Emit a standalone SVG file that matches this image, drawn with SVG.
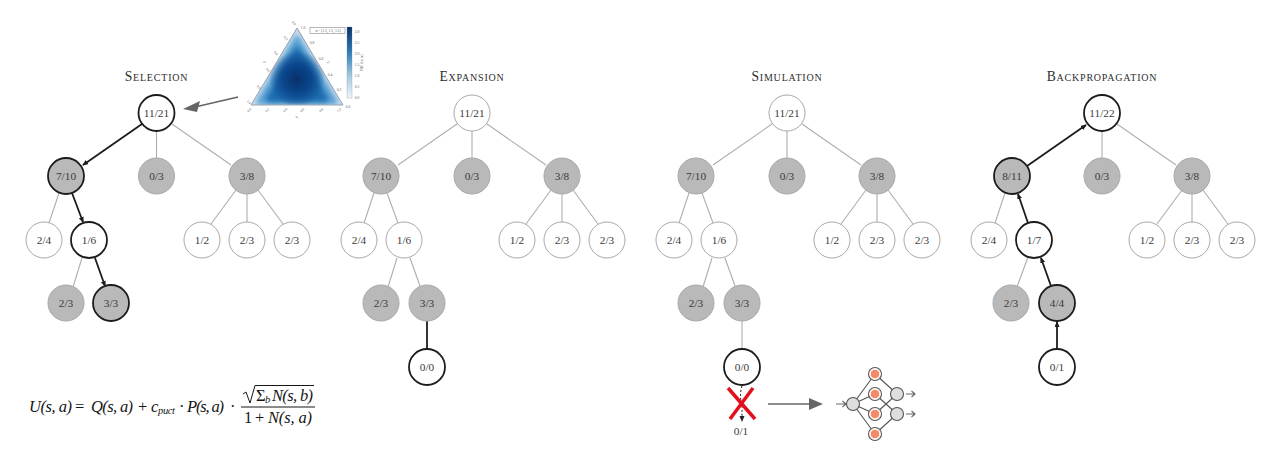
<svg xmlns="http://www.w3.org/2000/svg" width="1280" height="472" viewBox="0 0 1280 472">
<defs>
<style>
text{font-family:"Liberation Serif","DejaVu Serif",serif;fill:#3a3a3a;text-anchor:middle}
.n{font-size:11.300px}
.t{font-size:13.600px;fill:#2e2e2e;font-variant:small-caps;letter-spacing:.8px}
.w{fill:#fff;stroke:#a8a8a8;stroke-width:1}
.g{fill:#b9b9b9;stroke:#a8a8a8;stroke-width:1}
.W{fill:#fff;stroke:#1c1c1c;stroke-width:1.800}
.G{fill:#b9b9b9;stroke:#1c1c1c;stroke-width:1.800}
.e{stroke:#aeaeae;stroke-width:1.100;fill:none}
.h{stroke:#1c1c1c;stroke-width:1.800;fill:none;marker-end:url(#ah)}
.m{font-style:italic;fill:#161616;text-anchor:start;font-size:16.500px}
.u{font-style:normal;fill:#161616;text-anchor:start;font-size:16.500px}
.s{font-style:italic;fill:#161616;text-anchor:start;font-size:10.500px}
.nn{stroke:#555;stroke-width:1.100;fill:none}
.o{fill:#f58a66;stroke:#fff;stroke-width:1}
.r{fill:#fff;stroke:#555;stroke-width:1.100}
.c{fill:#dedede;stroke:#555;stroke-width:1.100}
.b{fill:none;stroke:#666;stroke-width:1.100}
.x{font-size:3.600px;fill:#555}
</style>
<marker id="ah" markerWidth="6" markerHeight="6" refX="5" refY="2.500" orient="auto" markerUnits="userSpaceOnUse"><path d="M0,0L6,2.500L0,5z" fill="#1c1c1c"/></marker>
<linearGradient id="cb" x1="0" y1="0" x2="0" y2="1"><stop offset="0" stop-color="#08306b"/><stop offset=".35" stop-color="#2b7bba"/><stop offset=".7" stop-color="#a6cde3"/><stop offset="1" stop-color="#f0f5fb"/></linearGradient>
<radialGradient id="dark" gradientUnits="userSpaceOnUse" cx="297" cy="79" r="28"><stop offset="0" stop-color="#08306b"/><stop offset=".5" stop-color="#0a468c"/><stop offset="1" stop-color="#0a468c" stop-opacity="0"/></radialGradient>
<filter id="bl" x="-20%" y="-20%" width="140%" height="140%"><feGaussianBlur stdDeviation="2.500"/></filter>
<clipPath id="tri"><path d="M297,28L343,105H251z"/></clipPath>
</defs>
<g id="connectors">
<path class="h" d="M142,124L83,165"/><path class="e" d="M156.500,131V158M172,124L231,165M59,193L49,223"/><path class="h" d="M72,193L83,222"/>
<path class="e" d="M236,190L211,224M247,194V222M258,190L283,224M82,258L73,287"/><path class="h" d="M95,258L105,286"/>
<path class="e" d="M457,124L398,165M472,131V158M487,124L546,165M374,193L364,223M387,193L398,223M551,190L526,224M562,194V222M573,190L598,224M397,258L388,287M410,258L420,286"/>
<path d="M427,321V349" stroke="#1c1c1c" stroke-width="1.800"/>
<path class="e" d="M772,124L713,165M787,131V158M802,124L861,165M689,193L679,223M702,193L713,223M866,190L841,224M877,194V222M888,190L913,224M712,258L703,287M725,258L735,286M742,321V349"/>
<path class="h" d="M1027,166L1086,125"/><path class="e" d="M1102,131V158M1117,124L1176,165M995,223L1005,193"/><path class="h" d="M1028,223L1018,194"/>
<path class="e" d="M1182,190L1157,224M1192,194V222M1203,190L1228,224M1028,257L1017,287"/><path class="h" d="M1051,286L1041,258"/><path class="h" d="M1057,349V322"/>
<path d="M238,97L195,107" stroke="#666" stroke-width="1.600"/><path d="M183,109L200,101L197,112z" fill="#666"/>
<path d="M768,404H812" stroke="#666" stroke-width="1.600"/><path d="M809,398L823,404L809,410z" fill="#666"/>
<path d="M742,386Q739,396 742,405V418" stroke="#222" stroke-width="1" stroke-dasharray="2 2" fill="none"/><path d="M739.500,416L742,422L744.500,416z" fill="#222"/>
</g>
<g id="sel"><text class="t" x="156.500" y="81">Selection</text>
<g id="s1"><circle class="W" cx="156.500" cy="113" r="18"/><text class="n" x="156.500" y="116.500">11/21</text></g>
<g id="s2"><circle class="G" cx="66" cy="176" r="18"/><text class="n" x="66" y="179.500">7/10</text></g>
<g id="s3"><circle class="g" cx="156.500" cy="176" r="18"/><text class="n" x="156.500" y="179.500">0/3</text></g>
<g id="s4"><circle class="g" cx="247" cy="176" r="18"/><text class="n" x="247" y="179.500">3/8</text></g>
<g id="s5"><circle class="w" cx="44" cy="240" r="18"/><text class="n" x="44" y="243.500">2/4</text></g>
<g id="s6"><circle class="W" cx="89" cy="240" r="18"/><text class="n" x="89" y="243.500">1/6</text></g>
<g id="s7"><circle class="w" cx="202" cy="240" r="18"/><text class="n" x="202" y="243.500">1/2</text></g>
<g id="s8"><circle class="w" cx="247" cy="240" r="18"/><text class="n" x="247" y="243.500">2/3</text></g>
<g id="s9"><circle class="w" cx="292" cy="240" r="18"/><text class="n" x="292" y="243.500">2/3</text></g>
<g id="s10"><circle class="g" cx="66" cy="303" r="18"/><text class="n" x="66" y="306.500">2/3</text></g>
<g id="s11"><circle class="G" cx="111" cy="303" r="18"/><text class="n" x="111" y="306.500">3/3</text></g>
</g>
<g id="exp"><text class="t" x="472" y="81">Expansion</text>
<g id="e1"><circle class="w" cx="472" cy="113" r="18"/><text class="n" x="472" y="116.500">11/21</text></g>
<g id="e2"><circle class="g" cx="381" cy="176" r="18"/><text class="n" x="381" y="179.500">7/10</text></g>
<g id="e3"><circle class="g" cx="472" cy="176" r="18"/><text class="n" x="472" y="179.500">0/3</text></g>
<g id="e4"><circle class="g" cx="562" cy="176" r="18"/><text class="n" x="562" y="179.500">3/8</text></g>
<g id="e5"><circle class="w" cx="359" cy="240" r="18"/><text class="n" x="359" y="243.500">2/4</text></g>
<g id="e6"><circle class="w" cx="404" cy="240" r="18"/><text class="n" x="404" y="243.500">1/6</text></g>
<g id="e7"><circle class="w" cx="517" cy="240" r="18"/><text class="n" x="517" y="243.500">1/2</text></g>
<g id="e8"><circle class="w" cx="562" cy="240" r="18"/><text class="n" x="562" y="243.500">2/3</text></g>
<g id="e9"><circle class="w" cx="607" cy="240" r="18"/><text class="n" x="607" y="243.500">2/3</text></g>
<g id="e10"><circle class="g" cx="381" cy="303" r="18"/><text class="n" x="381" y="306.500">2/3</text></g>
<g id="e11"><circle class="g" cx="427" cy="303" r="18"/><text class="n" x="427" y="306.500">3/3</text></g>
<g id="e12"><circle class="W" cx="427" cy="367" r="18"/><text class="n" x="427" y="370.500">0/0</text></g>
</g>
<g id="sim"><text class="t" x="787" y="81">Simulation</text>
<g id="m1"><circle class="w" cx="787" cy="113" r="18"/><text class="n" x="787" y="116.500">11/21</text></g>
<g id="m2"><circle class="g" cx="696" cy="176" r="18"/><text class="n" x="696" y="179.500">7/10</text></g>
<g id="m3"><circle class="g" cx="787" cy="176" r="18"/><text class="n" x="787" y="179.500">0/3</text></g>
<g id="m4"><circle class="g" cx="877" cy="176" r="18"/><text class="n" x="877" y="179.500">3/8</text></g>
<g id="m5"><circle class="w" cx="674" cy="240" r="18"/><text class="n" x="674" y="243.500">2/4</text></g>
<g id="m6"><circle class="w" cx="719" cy="240" r="18"/><text class="n" x="719" y="243.500">1/6</text></g>
<g id="m7"><circle class="w" cx="832" cy="240" r="18"/><text class="n" x="832" y="243.500">1/2</text></g>
<g id="m8"><circle class="w" cx="877" cy="240" r="18"/><text class="n" x="877" y="243.500">2/3</text></g>
<g id="m9"><circle class="w" cx="922" cy="240" r="18"/><text class="n" x="922" y="243.500">2/3</text></g>
<g id="m10"><circle class="g" cx="696" cy="303" r="18"/><text class="n" x="696" y="306.500">2/3</text></g>
<g id="m11"><circle class="g" cx="742" cy="303" r="18"/><text class="n" x="742" y="306.500">3/3</text></g>
<g id="m12"><circle class="W" cx="742" cy="367" r="18"/><text class="n" x="742" y="370.500">0/0</text></g>
<text class="n" x="741" y="434.500">0/1</text>
<path d="M728,388L755,419M753,388L730,419" stroke="#e3101c" stroke-width="3.500" fill="none"/>
</g>
<g id="back"><text class="t" x="1102" y="81">Backpropagation</text>
<g id="b1"><circle class="W" cx="1102" cy="113" r="18"/><text class="n" x="1102" y="116.500">11/22</text></g>
<g id="b2"><circle class="G" cx="1012" cy="176" r="18"/><text class="n" x="1012" y="179.500">8/11</text></g>
<g id="b3"><circle class="g" cx="1102" cy="176" r="18"/><text class="n" x="1102" y="179.500">0/3</text></g>
<g id="b4"><circle class="g" cx="1192" cy="176" r="18"/><text class="n" x="1192" y="179.500">3/8</text></g>
<g id="b5"><circle class="w" cx="989" cy="240" r="18"/><text class="n" x="989" y="243.500">2/4</text></g>
<g id="b6"><circle class="W" cx="1034" cy="240" r="18"/><text class="n" x="1034" y="243.500">1/7</text></g>
<g id="b7"><circle class="w" cx="1147" cy="240" r="18"/><text class="n" x="1147" y="243.500">1/2</text></g>
<g id="b8"><circle class="w" cx="1192" cy="240" r="18"/><text class="n" x="1192" y="243.500">2/3</text></g>
<g id="b9"><circle class="w" cx="1237" cy="240" r="18"/><text class="n" x="1237" y="243.500">2/3</text></g>
<g id="b10"><circle class="g" cx="1011" cy="303" r="18"/><text class="n" x="1011" y="306.500">2/3</text></g>
<g id="b11"><circle class="G" cx="1057" cy="303" r="18"/><text class="n" x="1057" y="306.500">4/4</text></g>
<g id="b12"><circle class="W" cx="1057" cy="367" r="18"/><text class="n" x="1057" y="370.500">0/1</text></g>
</g>
<g id="simplex">
<path d="M297,28L343,105H251z" fill="#c6dbef"/>
<g clip-path="url(#tri)">
<path d="M297,38L335,102H259z" fill="#5aa2d2" stroke="#5aa2d2" stroke-width="5" stroke-linejoin="round" filter="url(#bl)"/>
<path d="M297,50L325,99H269z" fill="#1a6cb0" stroke="#1a6cb0" stroke-width="6" stroke-linejoin="round" filter="url(#bl)"/>
<circle cx="297" cy="79" r="28" fill="url(#dark)"/>
</g>
<path d="M297,28L343,105H251z" fill="none" stroke="#9aa3ad" stroke-width="1"/>
<rect x="310" y="27.500" width="35" height="6" fill="#fff" stroke="#888" stroke-width=".6"/>
<text class="x" x="328" y="32">α = (1.5, 1.5, 1.5)</text>
<rect x="347" y="27" width="5" height="71" fill="url(#cb)" stroke="#888" stroke-width=".3"/>
<text class="x" x="357" y="33">3.0</text><text class="x" x="357" y="44">2.5</text><text class="x" x="357" y="55">2.0</text><text class="x" x="357" y="66">1.5</text><text class="x" x="357" y="77">1.0</text><text class="x" x="357" y="88">0.5</text><text class="x" x="357" y="99">0.0</text>
<text class="x" transform="translate(363,63) rotate(-90)">PDF f(x; α)</text>
<text class="x" x="303" y="29">1.0</text><text class="x" x="312" y="44">0.8</text><text class="x" x="321" y="60">0.6</text><text class="x" x="330" y="76">0.4</text><text class="x" x="339" y="91">0.2</text><text class="x" x="348" y="108">0.0</text>
<text class="x" transform="translate(250,111) rotate(-45)">0.0</text><text class="x" transform="translate(268,111) rotate(-45)">0.2</text><text class="x" transform="translate(286,111) rotate(-45)">0.4</text><text class="x" transform="translate(303,111) rotate(-45)">0.6</text><text class="x" transform="translate(322,111) rotate(-45)">0.8</text><text class="x" transform="translate(340,111) rotate(-45)">1.0</text>
<text class="x" transform="translate(248,103) rotate(45)">1.0</text><text class="x" transform="translate(258,88) rotate(45)">0.8</text><text class="x" transform="translate(267,71) rotate(45)">0.6</text><text class="x" transform="translate(275,54) rotate(45)">0.4</text><text class="x" transform="translate(285,39) rotate(45)">0.2</text><text class="x" transform="translate(293,24) rotate(45)">0.0</text>
<text class="x" x="297" y="118">x₁</text><text class="x" transform="translate(329,62) rotate(-90)">x₂</text><text class="x" transform="translate(265,62) rotate(-60)">x₃</text>
</g>
<g id="network">
<path class="nn" d="M853,404L875,374M853,404L875,394M853,404L875,414M853,404L875,434M875,374L897,394M875,394L897,414M875,414L897,394M875,434L897,414"/>
<path class="b" d="M836,404H846M842.500,401L846,404L842.500,407M906,394H915M911.500,391L915,394L911.500,397M906,414H915M911.500,411L915,414L911.500,417"/>
<circle class="c" cx="853" cy="404" r="6.500"/>
<circle class="r" cx="875" cy="374" r="6.500"/><circle class="r" cx="875" cy="394" r="6.500"/><circle class="r" cx="875" cy="414" r="6.500"/><circle class="r" cx="875" cy="434" r="6.500"/>
<circle class="o" cx="875" cy="374" r="4.800"/><circle class="o" cx="875" cy="394" r="4.800"/><circle class="o" cx="875" cy="414" r="4.800"/><circle class="o" cx="875" cy="434" r="4.800"/>
<circle class="c" cx="897" cy="394" r="6.500"/><circle class="c" cx="897" cy="414" r="6.500"/>
</g>
<g id="formula">
<text class="m" x="29" y="412" textLength="43">U(s, a)</text>
<text class="u" x="75" y="412">=</text>
<text class="m" x="91" y="412" textLength="42">Q(s, a)</text>
<text class="u" x="138" y="412">+</text>
<text class="m" x="151" y="412">c</text>
<text class="s" x="158" y="414" textLength="17">puct</text>
<text class="u" x="179" y="412">·</text>
<text class="m" x="187" y="412" textLength="37">P(s, a)</text>
<text class="u" x="230" y="412">·</text>
<text class="u" x="256" y="401">Σ</text>
<text class="s" x="265" y="403">b</text>
<text class="m" x="272" y="401" textLength="41">N(s, b)</text>
<path d="M243,394L246,392L250,403L255,385.500H314" fill="none" stroke="#161616" stroke-width="1"/>
<path d="M241,407H315" stroke="#161616" stroke-width="1"/>
<text class="u" x="244" y="423">1</text>
<text class="u" x="255" y="423">+</text>
<text class="m" x="268" y="423" textLength="44">N(s, a)</text>
</g>
</svg>
